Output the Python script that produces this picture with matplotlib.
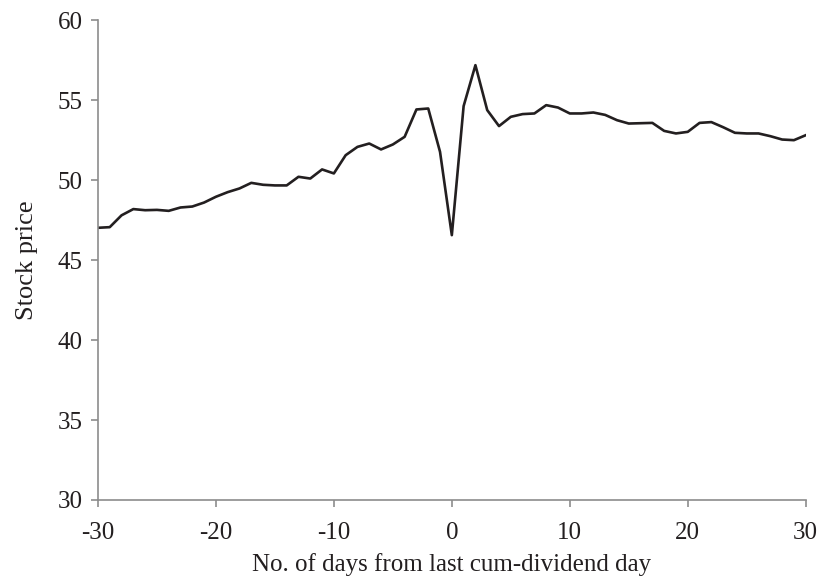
"""
Stock price around the last cum-dividend day
"""

import matplotlib.pyplot as plt

# Data
days = list(range(-30, 31))
price = [47.02, 47.06, 47.80, 48.19, 48.12, 48.14, 48.08, 48.29, 48.35, 48.60,
         48.96, 49.25, 49.48, 49.83, 49.71, 49.67, 49.67, 50.21, 50.10, 50.67,
         50.42, 51.56, 52.08, 52.29, 51.92, 52.23, 52.71, 54.42, 54.48, 51.77,
         46.56, 54.63, 57.19, 54.38, 53.38, 53.96, 54.13, 54.17, 54.69, 54.54,
         54.17, 54.17, 54.23, 54.08, 53.75, 53.54, 53.56, 53.58, 53.08, 52.92,
         53.02, 53.58, 53.63, 53.31, 52.96, 52.92, 52.92, 52.75, 52.54, 52.50,
         52.81]
x_ticks = [-30, -20, -10, 0, 10, 20, 30]
y_ticks = [30, 35, 40, 45, 50, 55, 60]

plt.rcParams['font.family'] = ['Liberation Serif', 'DejaVu Serif']

fig = plt.figure(figsize=(8.23, 5.78), dpi=100)
ax = fig.add_axes([0.119, 0.135, 0.860, 0.830])

ax.plot(days, price, color='#231f20', linewidth=1.9)

ax.set_xlim(-30, 30)
ax.set_ylim(30, 60)
ax.set_xticks(x_ticks)
ax.set_yticks(y_ticks)
ax.set_xticklabels([str(t) for t in x_ticks])

for side in ['top', 'right']:
    ax.spines[side].set_visible(False)
for side in ['left', 'bottom']:
    ax.spines[side].set_color('#8c8c8c')
    ax.spines[side].set_linewidth(1.2)

ax.tick_params(axis='both', colors='#8c8c8c', labelcolor='#231f20',
               labelsize=18, length=5, width=1.2, direction='out')
ax.tick_params(axis='y', pad=6)
ax.tick_params(axis='x', pad=11)

ax.set_xlabel('No. of days from last cum-dividend day', fontsize=18,
              color='#231f20', labelpad=6)
ax.set_ylabel('Stock price', fontsize=19, color='#231f20', labelpad=14)

fig.savefig('out.png', dpi=100)
